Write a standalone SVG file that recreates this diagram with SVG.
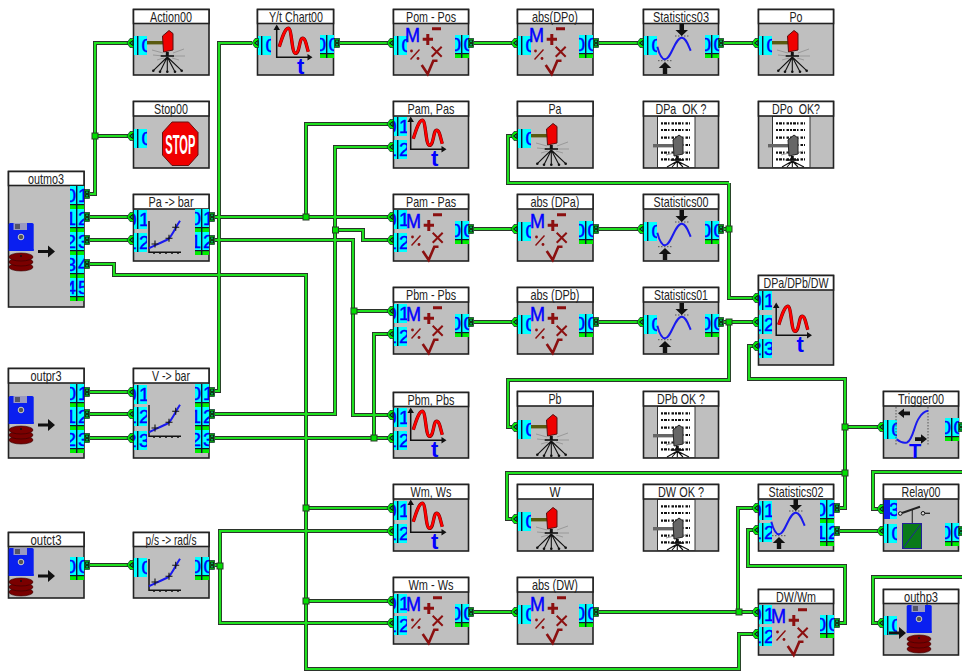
<svg xmlns="http://www.w3.org/2000/svg" width="962" height="671" viewBox="0 0 962 671">
<style>
.b{fill:#bfbfbf;stroke:#222;stroke-width:1.6}
.h{fill:#fff;stroke:#222;stroke-width:1.6}
.t{font-family:"Liberation Sans",Arial,sans-serif;font-size:15px;fill:#222;text-anchor:middle}
.d{font-family:"Liberation Sans",Arial,sans-serif;font-size:19px;fill:#0000ff;stroke:#0000ff;stroke-width:.4}
.wo{fill:none;stroke:#2b332b;stroke-width:4}
.wi{fill:none;stroke:#1fe01f;stroke-width:2.2}
.j{fill:#00e000;stroke:#2a3a2a;stroke-width:1}
.c{fill:#00ffff}
.k{fill:#113}
.g{fill:#00ee00}
.r{fill:none;stroke:#8b1010;stroke-linecap:butt}
.ax{fill:none;stroke:#111;stroke-width:1.5}
.ah{fill:#111}
.rays{fill:none;stroke:#999;stroke-width:1}
.arr{fill:none;stroke:#111;stroke-width:1.1}
.dot{fill:#111}
.bl{fill:none;stroke:#1a1aee;stroke-width:2}
.dots{fill:none;stroke:#555;stroke-width:1;stroke-dasharray:1.5 1.5}
.bt{font-family:"Liberation Sans",Arial,sans-serif;font-weight:bold;fill:#0000ff}
</style>
<defs>
<symbol id="po01" width="14" height="23" viewBox="0 0 14 23"><rect class="c" width="14" height="18"/><rect class="g" y="19" width="14" height="4"/><text class="d" x="6" y="16" text-anchor="end">0</text><text class="d" x="8" y="16">1</text><rect class="k" x="6" width="1.4" height="23"/><rect class="k" y="18" width="14" height="1.2"/></symbol>
<symbol id="po12" width="14" height="23" viewBox="0 0 14 23"><rect class="c" width="14" height="18"/><rect class="g" y="19" width="14" height="4"/><text class="d" x="6" y="16" text-anchor="end">1</text><text class="d" x="8" y="16">2</text><rect class="k" x="6" width="1.4" height="23"/><rect class="k" y="18" width="14" height="1.2"/></symbol>
<symbol id="po23" width="14" height="23" viewBox="0 0 14 23"><rect class="c" width="14" height="18"/><rect class="g" y="19" width="14" height="4"/><text class="d" x="6" y="16" text-anchor="end">2</text><text class="d" x="8" y="16">3</text><rect class="k" x="6" width="1.4" height="23"/><rect class="k" y="18" width="14" height="1.2"/></symbol>
<symbol id="po34" width="14" height="23" viewBox="0 0 14 23"><rect class="c" width="14" height="18"/><rect class="g" y="19" width="14" height="4"/><text class="d" x="6" y="16" text-anchor="end">3</text><text class="d" x="8" y="16">4</text><rect class="k" x="6" width="1.4" height="23"/><rect class="k" y="18" width="14" height="1.2"/></symbol>
<symbol id="po45" width="14" height="23" viewBox="0 0 14 23"><rect class="c" width="14" height="18"/><rect class="g" y="19" width="14" height="4"/><text class="d" x="6" y="16" text-anchor="end">4</text><text class="d" x="8" y="16">5</text><rect class="k" x="6" width="1.4" height="23"/><rect class="k" y="18" width="14" height="1.2"/></symbol>
<symbol id="po00" width="14" height="23" viewBox="0 0 14 23"><rect class="c" width="14" height="18"/><rect class="g" y="19" width="14" height="4"/><text class="d" x="6" y="16" text-anchor="end">0</text><text class="d" x="8.5" y="16">0</text><rect class="k" x="6" width="1.4" height="23"/><rect class="k" y="18" width="14" height="1.2"/></symbol>
<symbol id="pi0" width="13" height="19" viewBox="0 0 13 19"><rect class="c" width="13" height="19"/><text class="d" x="7.5" y="16">0</text><rect class="k" x="3" width="1.4" height="19"/></symbol>
<symbol id="pi1" width="13" height="19" viewBox="0 0 13 19"><rect class="c" width="13" height="19"/><text class="d" x="2.5" y="16" text-anchor="end">0</text><text class="d" x="5" y="16">1</text><rect class="k" x="3" width="1.4" height="19"/></symbol>
<symbol id="pi2" width="13" height="19" viewBox="0 0 13 19"><rect class="c" width="13" height="19"/><text class="d" x="2.5" y="16" text-anchor="end">1</text><text class="d" x="5" y="16">2</text><rect class="k" x="3" width="1.4" height="19"/></symbol>
<symbol id="pi3" width="13" height="19" viewBox="0 0 13 19"><rect class="c" width="13" height="19"/><text class="d" x="2.5" y="16" text-anchor="end">2</text><text class="d" x="5" y="16">3</text><rect class="k" x="3" width="1.4" height="19"/></symbol>
<g id="ti"><path d="M0 0L3 -4.5H6.5V4.5H3Z" fill="#00ee00" stroke="#123" stroke-width=".7"/><path d="M2.5 0L6 -2.5V2.5Z" fill="#0a6" stroke="#111" stroke-width="1"/></g>
<g id="to"><rect x=".4" y="-4.5" width="5.2" height="9" fill="#00ee00" stroke="#123" stroke-width=".7"/><rect x="1.6" y="-3" width="3" height="2.4" fill="#0a5" stroke="#111" stroke-width=".8"/><rect x="1.6" y=".6" width="3" height="2.4" fill="#0a5" stroke="#111" stroke-width=".8"/></g>
<g id="math"><text x="12" y="33" font-family="Liberation Sans,Arial,sans-serif" font-size="21" fill="#0000ff" stroke="#0000ff" stroke-width=".5" textLength="15" lengthAdjust="spacingAndGlyphs">M</text><path class="r" stroke-width="3" d="M39 19.7H48M29.7 30.3H40M34.8 25V36"/><path class="r" stroke-width="2" d="M38.7 37.7L48.7 47.7M48.7 37.7L38.7 47.7"/><path class="r" stroke-width="1.4" d="M17.5 50.5L26.5 40.5"/><circle cx="18.5" cy="42" r="1.4" fill="#8b1010"/><circle cx="25" cy="49.5" r="1.4" fill="#8b1010"/><path class="r" stroke-width="2.6" d="M28.7 56L34.7 65L40.3 51.7H44.5"/></g>
<g id="lamp"><path d="M14 33.7H31" stroke="#5a5a10" stroke-width="3.4" fill="none"/><path class="rays" d="M19 41L30 44M20 46L30 47M40 44L51 40M41 47L52 47M24 51L31 49M46 51L39 49"/><path d="M29.5 27L36 21.5L40 24.5V41L30.500 43Z" fill="#f00000" stroke="#511" stroke-width="1"/><path d="M34.3 43V47" stroke="#111" stroke-width="3"/><path d="M27.7 47H41" stroke="#111" stroke-width="1.6"/><path class="arr" d="M34.3 48L20.3 61.7M34.3 48L27 62.7M34.3 48V62.7M34.3 48L42 62.7M34.3 48L48.7 61.7"/><circle class="dot" cx="20.3" cy="61.7" r="1.3"/><circle class="dot" cx="27" cy="62.7" r="1.3"/><circle class="dot" cx="34.3" cy="62.7" r="1.3"/><circle class="dot" cx="42" cy="62.7" r="1.3"/><circle class="dot" cx="48.7" cy="61.7" r="1.3"/></g>
<g id="doc"><rect x="14.5" y="15.5" width="37.5" height="51" fill="#fff" stroke="#333" stroke-width="1"/><path d="M18 22.3H47M18 29H47M18 36.7H47M18 44H47M18 51.7H47M18 58.3H47" fill="none" stroke="#111" stroke-width="2.200" stroke-dasharray="2 1 3 1 1.5 2 2.500 1"/><path d="M10 44.7H31" stroke="#666" stroke-width="3.4" fill="none"/><path class="rays" d="M23 54L31 52M45 50L39 52"/><path d="M30 39L36 34L40 37V53L31 55Z" fill="#666" stroke="#222" stroke-width="1"/><path d="M34.3 55V59" stroke="#111" stroke-width="3"/><path d="M27.7 59H41" stroke="#111" stroke-width="1.6"/><path class="arr" d="M34.3 60L24 66M34.3 60L29 66M34.3 60V66M34.3 60L40 66M34.3 60L46 66"/></g>
<g id="chart"><path d="M22.3 37.7C25 29 28 19.3 31.3 19.3C35 19.3 34.500 44.300 38.500 44.300C43 44.300 42 29.300 45.700 29.300C48.500 29.300 49.500 37 51.300 42.700" fill="none" stroke="#700" stroke-width="3.400"/><path d="M22.3 37.7C25 29 28 19.3 31.3 19.3C35 19.3 34.500 44.300 38.500 44.300C43 44.300 42 29.300 45.700 29.300C48.500 29.300 49.500 37 51.300 42.700" fill="none" stroke="#ff0000" stroke-width="2.400"/><path class="ax" d="M19.7 18V48.300H53"/><path class="ah" d="M19.7 15.500L16.500 21H23ZM55.500 48.300L50.500 45V51.500Z"/><text class="bt" x="43.700" y="65" font-size="22" text-anchor="middle">t</text></g>
<g id="stat"><path class="dots" d="M32 27H47M15 51.700H30"/><path class="bl" d="M14.300 37.700C16 44 18.500 50.300 22 50.300C28 50.300 32 28.700 38.700 28.700C43 28.700 45 36 47.700 41.700"/><path class="ah" d="M36.500 15V21H32.500L38.700 27L45 21H41V15ZM19.800 65V59H15.800L22 53L28.200 59H24.200V65Z"/></g>
<g id="scale"><path class="ax" stroke-width="1" d="M16 27V58.300H48M21 58.300V60M27 58.300V60M33 58.300V60M39 58.300V60M45 58.300V60"/><path class="bl" d="M16 54.300C20 52 28 49 35.300 45C39 42 42 34.300 47 26.700"/><path class="arr" stroke-width="1.200" d="M18.500 50H25.500M22 46.500V53.500M32.500 44.300H39.500M36 40.800V47.800M39.200 33.300H46.200M42.700 29.800V36.800"/></g>
<g id="store"><rect x=".7" y="0" width="25" height="28" rx="1.500" fill="#0a1ff0"/><rect x="5.500" y="0" width="13.500" height="7" fill="#9a9ac0"/><rect x="7" y="1" width="5" height="5" fill="#556"/><circle cx="13" cy="14" r="2.800" fill="#555" stroke="#ccc" stroke-width="1"/><path d="M.7 26V28H25.700V26Z" fill="#0a1ff0"/><ellipse cx="13" cy="44" rx="12" ry="4" fill="#7a0000" stroke="#300" stroke-width=".6"/><ellipse cx="13" cy="39" rx="12" ry="4" fill="#7a0000" stroke="#300" stroke-width=".6"/><ellipse cx="13" cy="34" rx="12" ry="4" fill="#7a0000" stroke="#300" stroke-width=".6"/><circle cx="13" cy="33" r="1" fill="#111"/></g>
<path id="barr" d="M0 -1.500H10V-6L17 0L10 6V1.500H0Z" fill="#111"/>
</defs>

<g id="connectors">
<g class="wo">
<path d="M90 194H95V43H128M95 136H128M90 217H128M90 240H128M90 264H114V275H306V669H739V634H753M306 508H388M306 601H388"/>
<path d="M215 217H388M306 217V124H388M215 240H353V415H388M354 311H388M90 392H128M90 414H128M90 438H128"/>
<path d="M215 391H219V43H252M215 414H335V147H388M335 230H363V240H388M215 438H388M374 438V334H388"/>
<path d="M90 565H128M215 565H220M388 531H220V623H388"/>
<path d="M340 43H388M474 43H512M599 43H638M724 43H753"/>
<path d="M474 229H512M599 229H638M724 229H729M729 183V298H753M729 183H508V136H512"/>
<path d="M474 322H512M599 322H638M724 322H753M729 322V380H508V427H512"/>
<path d="M840 508H845V379H749V346H753M845 427H878M845 473H507V519H512M840 531H878"/>
<path d="M878 509H873V472H962M878 623H873V577H962M839 623H845V566H748V530H753M753 508H738V612M474 612H512M599 612H753"/>
</g>
<g class="wi">
<path d="M90 194H95V43H128M95 136H128M90 217H128M90 240H128M90 264H114V275H306V669H739V634H753M306 508H388M306 601H388"/>
<path d="M215 217H388M306 217V124H388M215 240H353V415H388M354 311H388M90 392H128M90 414H128M90 438H128"/>
<path d="M215 391H219V43H252M215 414H335V147H388M335 230H363V240H388M215 438H388M374 438V334H388"/>
<path d="M90 565H128M215 565H220M388 531H220V623H388"/>
<path d="M340 43H388M474 43H512M599 43H638M724 43H753"/>
<path d="M474 229H512M599 229H638M724 229H729M729 183V298H753M729 183H508V136H512"/>
<path d="M474 322H512M599 322H638M724 322H753M729 322V380H508V427H512"/>
<path d="M840 508H845V379H749V346H753M845 427H878M845 473H507V519H512M840 531H878"/>
<path d="M878 509H873V472H962M878 623H873V577H962M839 623H845V566H748V530H753M753 508H738V612M474 612H512M599 612H753"/>
</g>
<g id="junctions">
<rect class="j" x="92" y="133" width="6" height="6"/><rect class="j" x="303" y="214" width="6" height="6"/><rect class="j" x="332.500" y="227" width="6" height="6"/><rect class="j" x="351" y="308" width="6" height="6"/><rect class="j" x="371" y="435" width="6" height="6"/><rect class="j" x="303" y="505" width="6" height="6"/><rect class="j" x="303" y="598" width="6" height="6"/><rect class="j" x="217" y="563" width="6" height="6"/><rect class="j" x="726" y="226" width="6" height="6"/><rect class="j" x="726" y="319" width="6" height="6"/><rect class="j" x="842" y="424" width="6" height="6"/><rect class="j" x="842" y="470" width="6" height="6"/><rect class="j" x="736" y="609" width="6" height="6"/>
</g>
</g>

<g id="Action00"><rect class="b" x="133.500" y="9.500" width="75.500" height="65.500"/><rect class="h" x="133.500" y="9.500" width="75.500" height="14"/><text class="t" x="171" y="22" textLength="42" lengthAdjust="spacingAndGlyphs">Action00</text><use href="#pi0" x="134" y="36"/><use href="#lamp" x="133" y="9"/><use href="#ti" x="127" y="43"/></g>
<g id="Stop00"><rect class="b" x="133.500" y="101.500" width="75.500" height="66.500"/><rect class="h" x="133.500" y="101.500" width="75.500" height="14.500"/><text class="t" x="171" y="114" textLength="34" lengthAdjust="spacingAndGlyphs">Stop00</text><use href="#pi0" x="134" y="129"/><use href="#ti" x="127" y="136"/><path d="M172 122H188.500L198 132.500V155L188.500 165.500H172L162.500 155V132.500Z" fill="#f00000" stroke="#611" stroke-width="1"/><text x="180.300" y="154" text-anchor="middle" font-family="Liberation Sans,Arial,sans-serif" font-weight="bold" font-size="27" fill="#fff" textLength="30" lengthAdjust="spacingAndGlyphs">STOP</text></g>
<g id="YtChart00"><rect class="b" x="257.500" y="9.500" width="76" height="65.500"/><rect class="h" x="257.500" y="9.500" width="76" height="14"/><text class="t" x="296" y="22" textLength="54" lengthAdjust="spacingAndGlyphs">Y/t Chart00</text><use href="#pi0" x="258" y="36"/><use href="#po00" x="320" y="35"/><use href="#chart" x="257" y="9"/><use href="#ti" x="252" y="43"/><use href="#to" x="334" y="43"/></g>
<g id="PomPos"><rect class="b" x="393.500" y="9.500" width="75" height="65.500"/><rect class="h" x="393.500" y="9.500" width="75" height="14"/><text class="t" x="431" y="22" textLength="50" lengthAdjust="spacingAndGlyphs">Pom - Pos</text><use href="#pi0" x="394" y="36"/><use href="#po00" x="455" y="35"/><use href="#math" x="393" y="9"/><use href="#ti" x="387" y="43"/><use href="#to" x="468" y="43"/></g>
<g id="absDPo"><rect class="b" x="517.500" y="9.500" width="75.500" height="65.500"/><rect class="h" x="517.500" y="9.500" width="75.500" height="14"/><text class="t" x="555" y="22" textLength="46" lengthAdjust="spacingAndGlyphs">abs(DPo)</text><use href="#pi0" x="518" y="36"/><use href="#po00" x="579" y="35"/><use href="#math" x="517" y="9"/><use href="#ti" x="511" y="43"/><use href="#to" x="593" y="43"/></g>
<g id="Statistics03"><rect class="b" x="643.500" y="9.500" width="75" height="65.500"/><rect class="h" x="643.500" y="9.500" width="75" height="14"/><text class="t" x="681" y="22" textLength="56" lengthAdjust="spacingAndGlyphs">Statistics03</text><use href="#pi0" x="644" y="36"/><use href="#po00" x="705" y="35"/><use href="#stat" x="643" y="9"/><use href="#ti" x="637" y="43"/><use href="#to" x="718" y="43"/></g>
<g id="Po"><rect class="b" x="758.500" y="9.500" width="75" height="65.500"/><rect class="h" x="758.500" y="9.500" width="75" height="14"/><text class="t" x="796" y="22" textLength="13" lengthAdjust="spacingAndGlyphs">Po</text><use href="#pi0" x="759" y="36"/><use href="#lamp" x="758" y="9"/><use href="#ti" x="752" y="43"/></g>
<g id="PamPasChart"><rect class="b" x="393.500" y="101.500" width="75" height="66.500"/><rect class="h" x="393.500" y="101.500" width="75" height="14.500"/><text class="t" x="431" y="114" textLength="47" lengthAdjust="spacingAndGlyphs">Pam, Pas</text><use href="#pi1" x="394" y="117"/><use href="#pi2" x="394" y="140"/><use href="#chart" x="391" y="101"/><use href="#ti" x="387" y="124"/><use href="#ti" x="387" y="147"/></g>
<g id="Pa"><rect class="b" x="517.500" y="101.500" width="75.500" height="66.500"/><rect class="h" x="517.500" y="101.500" width="75.500" height="14.500"/><text class="t" x="555" y="114" textLength="13" lengthAdjust="spacingAndGlyphs">Pa</text><use href="#pi0" x="518" y="129"/><use href="#lamp" x="517" y="102"/><use href="#ti" x="511" y="136"/></g>
<g id="DPaOK"><rect class="b" x="643.500" y="101.500" width="75" height="66.500"/><use href="#doc" x="643" y="101"/><rect class="h" x="643.500" y="101.500" width="75" height="14.500"/><text class="t" x="681" y="114" textLength="51" lengthAdjust="spacingAndGlyphs" xml:space="preserve">DPa  OK ?</text></g>
<g id="DPoOK"><rect class="b" x="758.500" y="101.500" width="75" height="66.500"/><use href="#doc" x="758" y="101"/><rect class="h" x="758.500" y="101.500" width="75" height="14.500"/><text class="t" x="796" y="114" textLength="48" lengthAdjust="spacingAndGlyphs" xml:space="preserve">DPo  OK?</text></g>
<g id="outmo3"><rect class="b" x="8.500" y="171.500" width="75.500" height="135.500"/><rect class="h" x="8.500" y="171.500" width="75.500" height="14"/><text class="t" x="46" y="184" textLength="36" lengthAdjust="spacingAndGlyphs">outmo3</text><use href="#po01" x="70" y="186"/><use href="#po12" x="70" y="209"/><use href="#po23" x="70" y="232"/><use href="#po34" x="70" y="255"/><use href="#po45" x="70" y="278"/><use href="#store" x="8" y="223"/><use href="#barr" x="38" y="251.500"/><use href="#to" x="84" y="194"/><use href="#to" x="84" y="217"/><use href="#to" x="84" y="240"/><use href="#to" x="84" y="264"/></g>
<g id="PaBar"><rect class="b" x="133.500" y="194.500" width="75.500" height="66.500"/><rect class="h" x="133.500" y="194.500" width="75.500" height="14.500"/><text class="t" x="171" y="207" textLength="45" lengthAdjust="spacingAndGlyphs">Pa -&gt; bar</text><use href="#pi1" x="134" y="210"/><use href="#pi2" x="134" y="233"/><use href="#po01" x="195" y="209"/><use href="#po12" x="195" y="232"/><use href="#scale" x="133" y="194"/><use href="#ti" x="127" y="217"/><use href="#ti" x="127" y="240"/><use href="#to" x="209" y="217"/><use href="#to" x="209" y="240"/></g>
<g id="PamPos"><rect class="b" x="393.500" y="194.500" width="75" height="66.500"/><rect class="h" x="393.500" y="194.500" width="75" height="14.500"/><text class="t" x="431" y="207" textLength="50" lengthAdjust="spacingAndGlyphs">Pam - Pas</text><use href="#pi1" x="394" y="210"/><use href="#pi2" x="394" y="233"/><use href="#po00" x="455" y="221"/><use href="#math" x="394" y="195"/><use href="#ti" x="387" y="217"/><use href="#ti" x="387" y="240"/><use href="#to" x="468" y="229"/></g>
<g id="absDPa"><rect class="b" x="517.500" y="194.500" width="75.500" height="66.500"/><rect class="h" x="517.500" y="194.500" width="75.500" height="14.500"/><text class="t" x="555" y="207" textLength="49" lengthAdjust="spacingAndGlyphs">abs (DPa)</text><use href="#pi0" x="518" y="222"/><use href="#po00" x="579" y="221"/><use href="#math" x="518" y="195"/><use href="#ti" x="511" y="229"/><use href="#to" x="593" y="229"/></g>
<g id="Statistics00"><rect class="b" x="643.500" y="194.500" width="75" height="66.500"/><rect class="h" x="643.500" y="194.500" width="75" height="14.500"/><text class="t" x="681" y="207" textLength="55" lengthAdjust="spacingAndGlyphs">Statistics00</text><use href="#pi0" x="644" y="222"/><use href="#po00" x="705" y="221"/><use href="#stat" x="643" y="195"/><use href="#ti" x="637" y="229"/><use href="#to" x="718" y="229"/></g>
<g id="PbmPbs"><rect class="b" x="393.500" y="287.500" width="75" height="66.500"/><rect class="h" x="393.500" y="287.500" width="75" height="14.500"/><text class="t" x="431" y="300" textLength="50" lengthAdjust="spacingAndGlyphs">Pbm - Pbs</text><use href="#pi1" x="394" y="304"/><use href="#pi2" x="394" y="327"/><use href="#po00" x="455" y="314"/><use href="#math" x="394" y="288"/><use href="#ti" x="387" y="311"/><use href="#ti" x="387" y="334"/><use href="#to" x="468" y="322"/></g>
<g id="absDPb"><rect class="b" x="517.500" y="287.500" width="75.500" height="66.500"/><rect class="h" x="517.500" y="287.500" width="75.500" height="14.500"/><text class="t" x="555" y="300" textLength="49" lengthAdjust="spacingAndGlyphs">abs (DPb)</text><use href="#pi0" x="518" y="315"/><use href="#po00" x="579" y="314"/><use href="#math" x="518" y="288"/><use href="#ti" x="511" y="322"/><use href="#to" x="593" y="322"/></g>
<g id="Statistics01"><rect class="b" x="643.500" y="287.500" width="75" height="66.500"/><rect class="h" x="643.500" y="287.500" width="75" height="14.500"/><text class="t" x="681" y="300" textLength="54" lengthAdjust="spacingAndGlyphs">Statistics01</text><use href="#pi0" x="644" y="315"/><use href="#po00" x="705" y="314"/><use href="#stat" x="643" y="288"/><use href="#ti" x="637" y="322"/><use href="#to" x="718" y="322"/></g>
<g id="DPaDPbDW"><rect class="b" x="758.500" y="275.500" width="75" height="89.500"/><rect class="h" x="758.500" y="275.500" width="75" height="14.500"/><text class="t" x="796" y="288" textLength="65" lengthAdjust="spacingAndGlyphs">DPa/DPb/DW</text><use href="#pi1" x="759" y="291"/><use href="#pi2" x="759" y="315"/><use href="#pi3" x="759" y="339"/><use href="#chart" x="756.500" y="287"/><use href="#ti" x="752" y="298"/><use href="#ti" x="752" y="322"/><use href="#ti" x="752" y="346"/></g>
<g id="outpr3"><rect class="b" x="8.500" y="368.500" width="75.500" height="89.500"/><rect class="h" x="8.500" y="368.500" width="75.500" height="14.500"/><text class="t" x="46" y="381" textLength="31" lengthAdjust="spacingAndGlyphs">outpr3</text><use href="#po01" x="70" y="384"/><use href="#po12" x="70" y="407"/><use href="#po23" x="70" y="430"/><use href="#store" x="8" y="396"/><use href="#barr" x="38" y="425"/><use href="#to" x="84" y="392"/><use href="#to" x="84" y="414"/><use href="#to" x="84" y="438"/></g>
<g id="VBar"><rect class="b" x="133.500" y="368.500" width="75.500" height="89.500"/><rect class="h" x="133.500" y="368.500" width="75.500" height="14.500"/><text class="t" x="171" y="381" textLength="38" lengthAdjust="spacingAndGlyphs">V -&gt; bar</text><use href="#pi1" x="134" y="385"/><use href="#pi2" x="134" y="407"/><use href="#pi3" x="134" y="431"/><use href="#po01" x="195" y="384"/><use href="#po12" x="195" y="407"/><use href="#po23" x="195" y="430"/><use href="#scale" x="133" y="378"/><use href="#ti" x="127" y="392"/><use href="#ti" x="127" y="414"/><use href="#ti" x="127" y="438"/><use href="#to" x="209" y="392"/><use href="#to" x="209" y="414"/><use href="#to" x="209" y="438"/></g>
<g id="PbmPbsChart"><rect class="b" x="393.500" y="392.500" width="75" height="65.500"/><rect class="h" x="393.500" y="392.500" width="75" height="14"/><text class="t" x="431" y="405" textLength="47" lengthAdjust="spacingAndGlyphs">Pbm, Pbs</text><use href="#pi1" x="394" y="408"/><use href="#pi2" x="394" y="431"/><use href="#chart" x="391" y="392"/><use href="#ti" x="387" y="415"/><use href="#ti" x="387" y="438"/></g>
<g id="Pb"><rect class="b" x="517.500" y="391.500" width="75.500" height="66.500"/><rect class="h" x="517.500" y="391.500" width="75.500" height="14.500"/><text class="t" x="555" y="404" textLength="13" lengthAdjust="spacingAndGlyphs">Pb</text><use href="#pi0" x="518" y="420"/><use href="#lamp" x="517" y="393"/><use href="#ti" x="511" y="427"/></g>
<g id="DPbOK"><rect class="b" x="643.500" y="391.500" width="75" height="66.500"/><use href="#doc" x="643" y="391"/><rect class="h" x="643.500" y="391.500" width="75" height="14.500"/><text class="t" x="681" y="404" textLength="48" lengthAdjust="spacingAndGlyphs">DPb OK ?</text></g>
<g id="Trigger00"><rect class="b" x="883.500" y="391.500" width="75" height="66.500"/><rect class="h" x="883.500" y="391.500" width="75" height="14.500"/><text class="t" x="921" y="404" textLength="46" lengthAdjust="spacingAndGlyphs">Trigger00</text><use href="#pi0" x="884" y="420"/><use href="#po00" x="945" y="418"/><path class="dots" d="M896 407V445M928 407V445"/><path class="bl" d="M896.700 439.300C900 442 904 443.500 907 442.500C913 440 914 425 919 418C922 413 925 411 928.300 410.700"/><path class="ah" d="M898 413.300L904 408.500V411.500H910V415.200H904V418ZM927 439L921 434.200V437.200H915V440.900H921V443.700Z"/><text class="bt" x="915" y="458" font-size="20" text-anchor="middle">T</text><use href="#ti" x="877" y="427"/><use href="#to" x="958" y="427"/></g>
<g id="outct3"><rect class="b" x="8.500" y="532.500" width="75.500" height="65.500"/><rect class="h" x="8.500" y="532.500" width="75.500" height="14"/><text class="t" x="46" y="545" textLength="31" lengthAdjust="spacingAndGlyphs">outct3</text><use href="#po00" x="70" y="557"/><use href="#store" x="8" y="548"/><use href="#barr" x="38" y="576"/><use href="#to" x="84" y="565"/></g>
<g id="PsRad"><rect class="b" x="133.500" y="532.500" width="75.500" height="65.500"/><rect class="h" x="133.500" y="532.500" width="75.500" height="14"/><text class="t" x="171" y="545" textLength="51" lengthAdjust="spacingAndGlyphs">p/s -&gt; rad/s</text><use href="#pi0" x="134" y="558"/><use href="#po00" x="195" y="557"/><use href="#scale" x="133" y="532"/><use href="#ti" x="127" y="565"/><use href="#to" x="209" y="565"/></g>
<g id="WmWsChart"><rect class="b" x="393.500" y="484.500" width="75" height="66.500"/><rect class="h" x="393.500" y="484.500" width="75" height="14.500"/><text class="t" x="431" y="497" textLength="41" lengthAdjust="spacingAndGlyphs">Wm, Ws</text><use href="#pi1" x="394" y="501"/><use href="#pi2" x="394" y="524"/><use href="#chart" x="391" y="484"/><use href="#ti" x="387" y="508"/><use href="#ti" x="387" y="531"/></g>
<g id="W"><rect class="b" x="517.500" y="484.500" width="75.500" height="66.500"/><rect class="h" x="517.500" y="484.500" width="75.500" height="14.500"/><text class="t" x="555" y="497" textLength="11" lengthAdjust="spacingAndGlyphs">W</text><use href="#pi0" x="518" y="512"/><use href="#lamp" x="517" y="486"/><use href="#ti" x="511" y="519"/></g>
<g id="DWOK"><rect class="b" x="643.500" y="484.500" width="75" height="66.500"/><use href="#doc" x="643" y="484"/><rect class="h" x="643.500" y="484.500" width="75" height="14.500"/><text class="t" x="681" y="497" textLength="46" lengthAdjust="spacingAndGlyphs">DW OK ?</text></g>
<g id="Statistics02"><rect class="b" x="758.500" y="484.500" width="75" height="66.500"/><rect class="h" x="758.500" y="484.500" width="75" height="14.500"/><text class="t" x="796" y="497" textLength="55" lengthAdjust="spacingAndGlyphs">Statistics02</text><use href="#pi1" x="759" y="501"/><use href="#pi2" x="759" y="523"/><use href="#po01" x="820" y="500"/><use href="#po12" x="820" y="523"/><use href="#stat" x="757" y="484"/><use href="#ti" x="752" y="508"/><use href="#ti" x="752" y="530"/><use href="#to" x="834" y="508"/><use href="#to" x="834" y="531"/></g>
<g id="Relay00"><rect class="b" x="883.500" y="484.500" width="75" height="66.500"/><rect class="h" x="883.500" y="484.500" width="75" height="14.500"/><text class="t" x="921" y="497" textLength="39" lengthAdjust="spacingAndGlyphs">Relay00</text><use href="#pi3" x="884" y="500"/><rect x="884" y="500" width="6" height="19" fill="#0a1ff0"/><use href="#pi0" x="884" y="524"/><use href="#po00" x="945" y="523"/><path d="M912.300 510V524" stroke="#333" stroke-width="1.200" fill="none"/><path d="M902 513L920 506.700" stroke="#222" stroke-width="2" fill="none"/><path d="M924.500 513.300H930" stroke="#222" stroke-width="1.300" fill="none"/><circle cx="900.300" cy="513.500" r="1.800" fill="#ddd" stroke="#111"/><circle cx="923" cy="513.300" r="1.800" fill="#ddd" stroke="#111"/><rect x="902.500" y="523.500" width="19" height="25" fill="#0a7a1a" stroke="#222299" stroke-width="1"/><path d="M903 548L921 524" stroke="#222299" stroke-width="1" fill="none"/><use href="#ti" x="877" y="509"/><use href="#ti" x="877" y="531"/><use href="#to" x="958" y="531"/></g>
<g id="WmWs"><rect class="b" x="393.500" y="577.500" width="75" height="66.500"/><rect class="h" x="393.500" y="577.500" width="75" height="14.500"/><text class="t" x="431" y="590" textLength="45" lengthAdjust="spacingAndGlyphs">Wm - Ws</text><use href="#pi1" x="394" y="594"/><use href="#pi2" x="394" y="616"/><use href="#po00" x="455" y="604"/><use href="#math" x="394" y="578"/><use href="#ti" x="387" y="601"/><use href="#ti" x="387" y="623"/><use href="#to" x="468" y="612"/></g>
<g id="absDW"><rect class="b" x="517.500" y="577.500" width="75.500" height="66.500"/><rect class="h" x="517.500" y="577.500" width="75.500" height="14.500"/><text class="t" x="555" y="590" textLength="46" lengthAdjust="spacingAndGlyphs">abs (DW)</text><use href="#pi0" x="518" y="605"/><use href="#po00" x="579" y="604"/><use href="#math" x="518" y="578"/><use href="#ti" x="511" y="612"/><use href="#to" x="593" y="612"/></g>
<g id="DWWm"><rect class="b" x="758.500" y="589.500" width="75" height="65.500"/><rect class="h" x="758.500" y="589.500" width="75" height="14"/><text class="t" x="796" y="602" textLength="40" lengthAdjust="spacingAndGlyphs">DW/Wm</text><use href="#pi1" x="759" y="605"/><use href="#pi2" x="759" y="627"/><use href="#po00" x="820" y="615"/><use href="#math" x="759" y="590"/><use href="#ti" x="752" y="612"/><use href="#ti" x="752" y="634"/><use href="#to" x="834" y="623"/></g>
<g id="outhp3"><rect class="b" x="883.500" y="589.500" width="75" height="65.500"/><rect class="h" x="883.500" y="589.500" width="75" height="14"/><text class="t" x="921" y="602" textLength="34" lengthAdjust="spacingAndGlyphs">outhp3</text><use href="#pi0" x="884" y="616"/><use href="#store" x="906" y="605"/><use href="#barr" x="889" y="633"/><use href="#ti" x="877" y="623"/></g>
</svg>
